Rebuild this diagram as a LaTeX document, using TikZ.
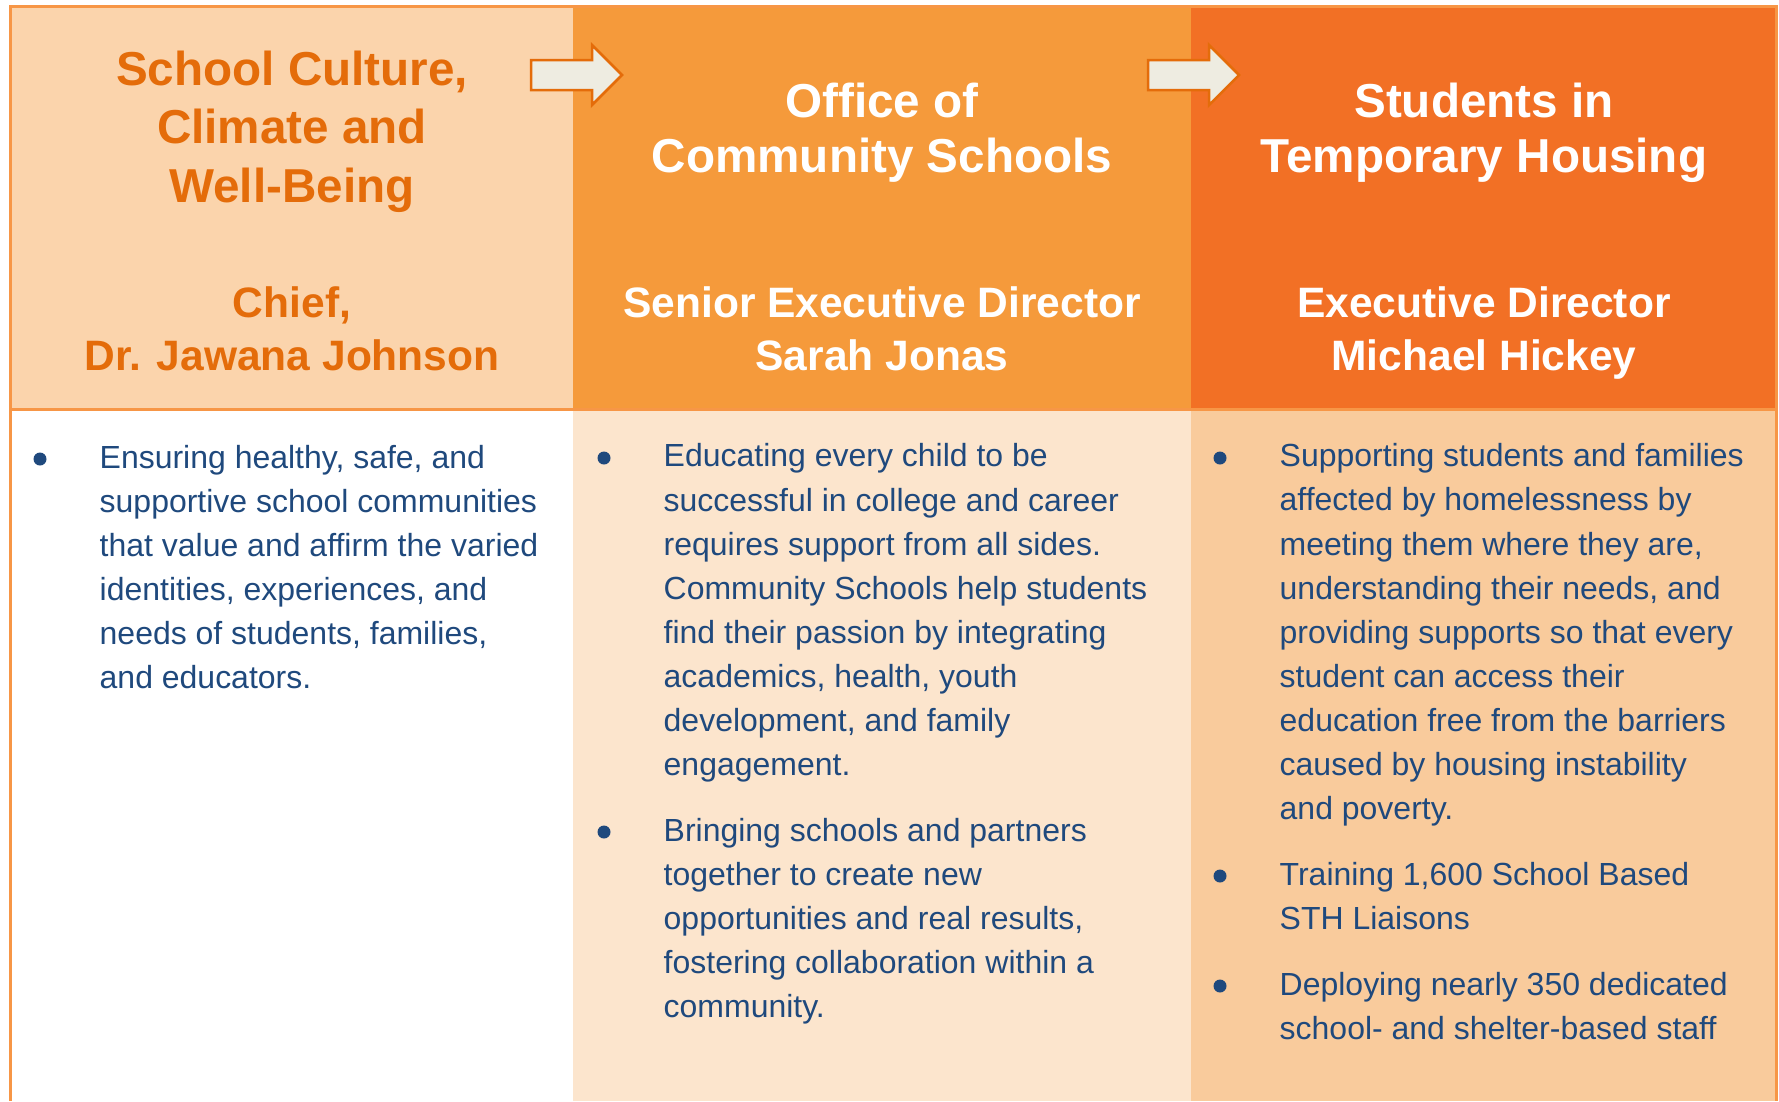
\documentclass[tikz,border=0pt]{standalone}
\usepackage{fontspec}
\setmainfont{Liberation Sans}
\usetikzlibrary{positioning}
\definecolor{hdrA}{RGB}{251,212,172}
\definecolor{hdrB}{RGB}{245,154,59}
\definecolor{hdrC}{RGB}{242,112,37}
\definecolor{bodyB}{RGB}{252,229,205}
\definecolor{bodyC}{RGB}{249,203,156}
\definecolor{rim}{RGB}{247,150,70}
\definecolor{deeporange}{RGB}{228,108,10}
\definecolor{navy}{RGB}{31,73,125}
\definecolor{paper}{RGB}{238,236,225}
\tikzset{
  % column headings (office name, then who leads it); placed by last baseline
  ttl/.style={anchor=base, align=center, inner sep=0pt,
              font=\bfseries\fontsize{13.55}{15.65}\selectfont},
  who/.style={anchor=base, align=center, inner sep=0pt,
              font=\bfseries\fontsize{12.1}{15.08}\selectfont},
  % bullet paragraphs, 4.4mm line pitch
  txt/.style={anchor=base west, align=left, inner sep=0pt, text=navy,
              font=\fontsize{9.1}{12.52}\selectfont},
  bul/.style={circle, fill=navy, inner sep=0pt, minimum size=1.3mm},
  rimline/.style={draw=rim, line width=0.3mm},
  blk/.style={fill=paper, draw=deeporange, line width=0.25mm, line join=miter}
}

\begin{document}
\begin{tikzpicture}[x=0.1mm, y=-0.1mm]
  \useasboundingbox (0,0) rectangle (1779,1101);

  % --- column backgrounds ---
  \fill[hdrA]  (10,6)    rectangle (573,409);
  \fill[hdrB]  (573,6)   rectangle (1191,409);
  \fill[hdrC]  (1191,6)  rectangle (1776,409);
  \fill[white] (10,409)  rectangle (573,1101);
  \fill[bodyB] (573,409) rectangle (1191,1101);
  \fill[bodyC] (1191,409) rectangle (1776,1101);

  % --- outer rim + rule under the headings ---
  \draw[rimline] (10,1101) -- (10,6) -- (1776,6) -- (1776,1101);
  \draw[rimline] (10,409) -- (1776,409);

  % --- block arrows between the offices ---
  \foreach \ax in {531,1148}
    \draw[blk] (\ax,60) -- ++(61,0) -- ++(0,-15) -- ++(30,30)
               -- ++(-30,30) -- ++(0,-15) -- ++(-61,0) -- cycle;

  % --- headings ---
  \node[ttl, text=deeporange, font=\bfseries\fontsize{13.55}{16.59}\selectfont] (cultitle)
    at (292,202) {School Culture,\\Climate and\\Well-Being};
  \node[ttl, text=white] (ocstitle) at (882,172) {Office of\\Community Schools};
  \node[ttl, text=white] (sthtitle) at (1484,172) {Students in\\Temporary Housing};

  \node[who, text=deeporange] (culhead) at (292,370) {Chief,\\Dr. Jawana Johnson};
  \node[who, text=white] (ocshead) at (882,370) {Senior Executive Director\\Sarah Jonas};
  \node[who, text=white] (sthhead) at (1484,370) {Executive Director\\Michael Hickey};

  % --- bullet text ---
  \node[txt] (cul1) at (99,688) {Ensuring healthy, safe, and\\supportive school communities\\that value and affirm the varied\\identities, experiences, and\\needs of students, families,\\and educators.};

  \node[txt] (ocs1) at (663,775) {Educating every child to be\\successful in college and career\\requires support from all sides.\\Community Schools help students\\find their passion by integrating\\academics, health, youth\\development, and family\\engagement.};
  \node[txt] (ocs2) at (663,1017) {Bringing schools and partners\\together to create new\\opportunities and real results,\\fostering collaboration within a\\community.};

  \node[txt] (sth1) at (1279,819) {Supporting students and families\\affected by homelessness by\\meeting them where they are,\\understanding their needs, and\\providing supports so that every\\student can access their\\education free from the barriers\\caused by housing instability\\and poverty.};
  \node[txt] (sth2) at (1279,929) {Training 1,600 School Based\\STH Liaisons};
  \node[txt] (sth3) at (1279,1039) {Deploying nearly 350 dedicated\\school- and shelter-based staff};

  % bullets sit left of each paragraph's first line (n = lines below it)
  \foreach \p/\n in {cul1/5,ocs1/7,ocs2/4,sth1/8,sth2/1,sth3/1}
    \node[bul, xshift=-5.9mm, yshift={\n*4.4mm+0.9mm}] (dot-\p) at (\p.base west) {};
\end{tikzpicture}
\end{document}
